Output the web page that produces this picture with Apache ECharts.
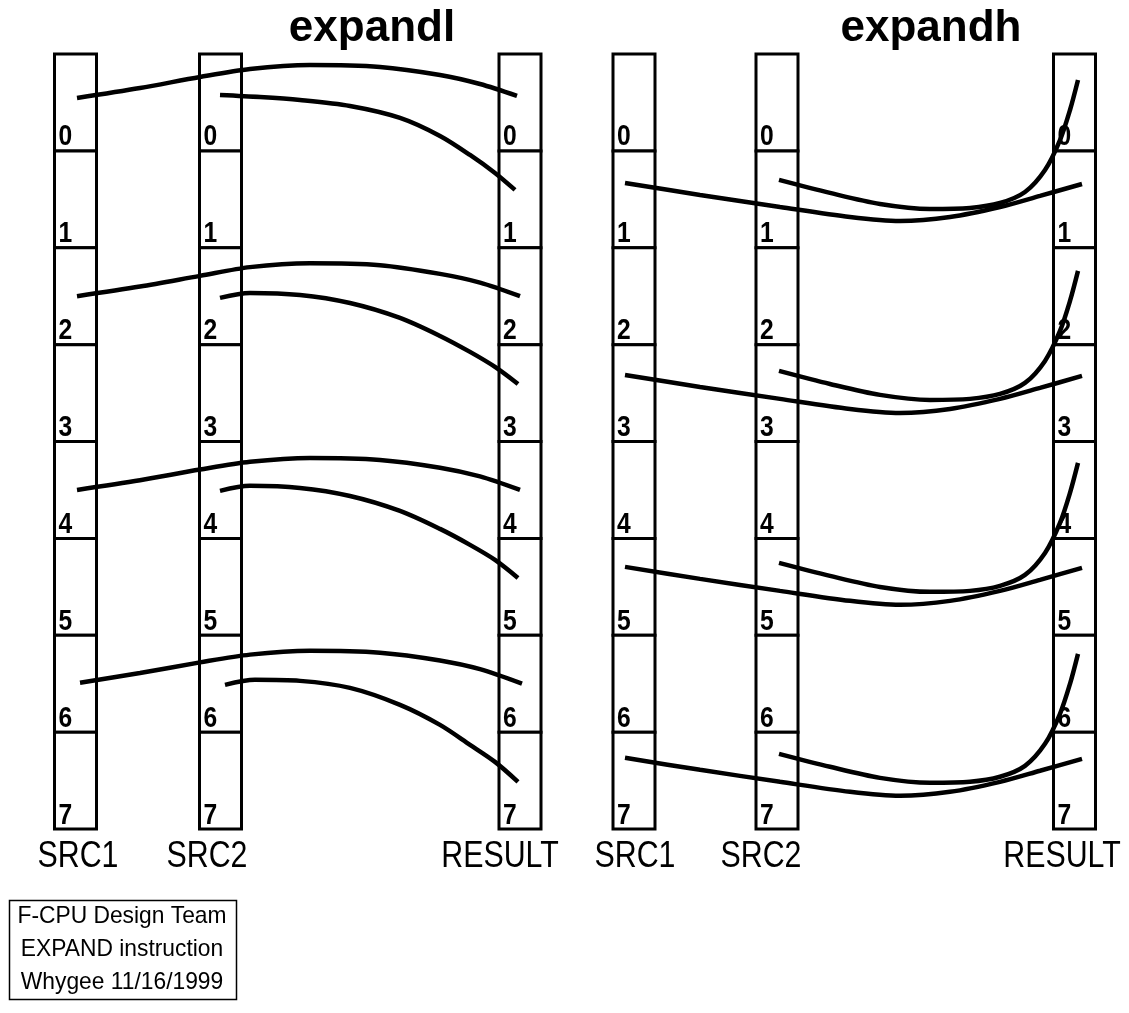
<!DOCTYPE html>
<html>
<head>
<meta charset="utf-8">
<script src="https://cdn.jsdelivr.net/npm/echarts@6/dist/echarts.min.js"></script>
<style>
html,body{margin:0;padding:0;background:#fff;}
#chart{width:1129px;height:1013px;}
</style>
</head>
<body>
<div id="chart"></div>
<script>
// ---- data ----
const cellIndices = [0, 1, 2, 3, 4, 5, 6, 7];
const columnNames = ['SRC1', 'SRC2', 'RESULT', 'SRC1', 'SRC2', 'RESULT'];
const columnX = [75.5, 220.5, 520, 634, 777, 1074.5];
const columnLabelX = [78, 207, 500, 635, 761, 1062];
const panelTitles = ['expandl', 'expandh'];
const panelTitleX = [372, 931];
const footerLines = ['F-CPU Design Team', 'EXPAND instruction', 'Whygee 11/16/1999'];

// curves: [horizontal position, register cell position]
const expandlSrc1 = [
  [[77,0.454],[140,0.351],[200,0.237],[250,0.155],[310,0.114],[380,0.134],[440,0.217],[480,0.310],[517,0.433]],
  [[77,2.500],[140,2.400],[200,2.290],[250,2.200],[310,2.160],[380,2.180],[440,2.270],[480,2.360],[520,2.500]],
  [[77,4.500],[140,4.400],[200,4.290],[250,4.210],[310,4.170],[380,4.190],[440,4.270],[480,4.360],[520,4.500]],
  [[80,6.490],[140,6.390],[200,6.280],[250,6.200],[310,6.160],[380,6.180],[440,6.260],[480,6.350],[522,6.500]]
];
const expandlSrc2 = [
  [[220,0.423],[260,0.444],[300,0.475],[350,0.537],[400,0.660],[440,0.846],[470,1.042],[495,1.228],[515,1.403]],
  [[220,2.518],[250,2.466],[300,2.487],[350,2.570],[400,2.724],[440,2.910],[470,3.075],[495,3.230],[518,3.406]],
  [[220,4.510],[250,4.458],[300,4.479],[350,4.562],[400,4.716],[440,4.902],[470,5.067],[495,5.222],[518,5.408]],
  [[225,6.512],[255,6.460],[300,6.471],[350,6.543],[400,6.718],[440,6.925],[470,7.131],[495,7.307],[518,7.513]]
];
const expandhSrc1 = [
  [[625,1.331],[700,1.455],[780,1.579],[850,1.682],[900,1.723],[950,1.682],[1000,1.579],[1040,1.465],[1082,1.342]],
  [[625,3.313],[700,3.437],[780,3.560],[850,3.664],[900,3.705],[950,3.664],[1000,3.560],[1040,3.447],[1082,3.323]],
  [[625,5.294],[700,5.418],[780,5.542],[850,5.645],[900,5.686],[950,5.645],[1000,5.542],[1040,5.428],[1082,5.304]],
  [[625,7.265],[700,7.389],[780,7.513],[850,7.616],[900,7.657],[950,7.616],[1000,7.513],[1040,7.399],[1082,7.276]]
];
const expandhSrc2 = [
  [[779,1.300],[830,1.434],[880,1.548],[930,1.600],[970,1.589],[1000,1.538],[1025,1.424],[1045,1.197],[1060,0.888],[1070,0.578],[1078,0.268]],
  [[779,3.271],[830,3.406],[880,3.519],[930,3.571],[970,3.560],[1000,3.509],[1025,3.395],[1045,3.168],[1060,2.859],[1070,2.549],[1078,2.239]],
  [[779,5.253],[830,5.387],[880,5.501],[930,5.552],[970,5.542],[1000,5.490],[1025,5.377],[1045,5.150],[1060,4.840],[1070,4.530],[1078,4.221]],
  [[779,7.224],[830,7.358],[880,7.472],[930,7.523],[970,7.513],[1000,7.461],[1025,7.348],[1045,7.121],[1060,6.811],[1070,6.502],[1078,6.192]]
];

// ---- build ----
const chart = echarts.init(document.getElementById('chart'), null, {renderer: 'canvas'});

const registerData = [];
columnX.forEach((x, ci) => cellIndices.forEach(c => registerData.push([x, c, ci])));

const labelData = columnX.map((x, i) => [columnLabelX[i], 8, columnNames[i]]);

const curveSeries = [];
[expandlSrc1, expandlSrc2, expandhSrc1, expandhSrc2].forEach(group => {
  group.forEach(pts => {
    curveSeries.push({
      type: 'line', data: pts, smooth: 0.3, symbol: 'none', z: 5,
      lineStyle: {color: '#000', width: 4.5, cap: 'butt'},
      silent: true, animation: false
    });
  });
});

const option = {
  backgroundColor: '#fff',
  animation: false,
  grid: {left: 0, right: 0, top: 54, bottom: 184},
  xAxis: {type: 'value', min: 0, max: 1129, show: false},
  yAxis: {type: 'value', min: 0, max: 8, inverse: true, show: false},
  series: [
    {
      type: 'custom', z: 2, silent: true, animation: false,
      data: registerData,
      renderItem: function (params, api) {
        const x = api.value(0), c = api.value(1);
        const p0 = api.coord([x, c]);
        const p1 = api.coord([x, c + 1]);
        return {
          type: 'group',
          children: [
            {type: 'rect', shape: {x: p0[0] - 21, y: p0[1], width: 42, height: p1[1] - p0[1]},
             style: {fill: '#fff', stroke: '#000', lineWidth: 3}},
            {type: 'text', x: p0[0] - 17, y: p1[1] + 1, scaleX: 0.85,
             style: {text: String(c), font: 'bold 29px "Liberation Sans", Arial, sans-serif',
                     fill: '#000', align: 'left', verticalAlign: 'bottom'}}
          ]
        };
      }
    },
    {
      type: 'custom', z: 2, silent: true, animation: false,
      data: labelData,
      renderItem: function (params, api) {
        const p = api.coord([api.value(0), api.value(1)]);
        return {type: 'text', x: p[0], y: p[1] + 9, scaleX: 0.82,
          style: {text: labelData[params.dataIndex][2], font: '37px "Liberation Sans", Arial, sans-serif',
                  fill: '#000', align: 'center', verticalAlign: 'top'}};
      }
    }
  ].concat(curveSeries),
  graphic: [
    {type: 'text', x: panelTitleX[0], y: 7, style: {text: panelTitles[0], font: 'bold 44px "Liberation Sans", Arial, sans-serif', fill: '#000', align: 'center', verticalAlign: 'top'}},
    {type: 'text', x: panelTitleX[1], y: 7, style: {text: panelTitles[1], font: 'bold 44px "Liberation Sans", Arial, sans-serif', fill: '#000', align: 'center', verticalAlign: 'top'}},
    {type: 'rect', shape: {x: 9.5, y: 900.5, width: 227, height: 99}, style: {fill: '#fff', stroke: '#000', lineWidth: 1.5}},
    {type: 'text', x: 122, y: 916, scaleX: 0.95, style: {text: footerLines[0], font: '24px "Liberation Sans", Arial, sans-serif', fill: '#000', align: 'center', verticalAlign: 'middle'}},
    {type: 'text', x: 122, y: 949, scaleX: 0.95, style: {text: footerLines[1], font: '24px "Liberation Sans", Arial, sans-serif', fill: '#000', align: 'center', verticalAlign: 'middle'}},
    {type: 'text', x: 122, y: 982, scaleX: 0.95, style: {text: footerLines[2], font: '24px "Liberation Sans", Arial, sans-serif', fill: '#000', align: 'center', verticalAlign: 'middle'}}
  ]
};
chart.setOption(option);
</script>
</body>
</html>
